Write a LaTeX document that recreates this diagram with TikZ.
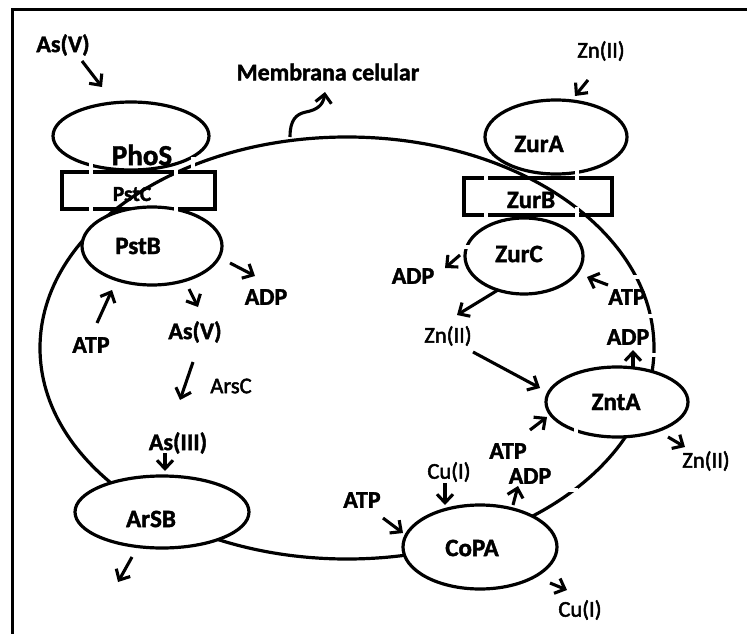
\documentclass[tikz,border=0pt]{standalone}
\usepackage{fontspec}
\setmainfont{Carlito}[BoldFeatures={FakeBold=1.6}]
\newfontfamily\midfont{Carlito}[FakeBold=2.2]
\usetikzlibrary{arrows.meta,shapes.geometric}

\tikzset{
  prot/.style={ellipse, draw, fill=white, line width=3.2pt, inner sep=0pt},
  protbox/.style={rectangle, draw, line width=3.2pt, inner sep=0pt},
  bl/.style={font=\fontsize{24}{26}\selectfont\bfseries, inner sep=0pt},
  rl/.style={font=\fontsize{22.5}{24}\selectfont\midfont, inner sep=0pt},
  pl/.style={font=\fontsize{25}{27}\selectfont\bfseries, inner sep=0pt},
  flow/.style={line width=3.1pt, -{Straight Barb[length=8.5pt,width=16pt,line width=3.1pt]}},
  gapmark/.style={white, line width=4pt},
}

\begin{document}
\begin{tikzpicture}[x=1pt, y=-1pt, line cap=butt]
\useasboundingbox (0,0) rectangle (747,634);

% outer frame (top and left sides)
\draw[line width=3pt] (12,634) -- (12,10) -- (747,10);

% cell membrane
\draw[line width=3.2pt] (347,348) ellipse [x radius=307pt, y radius=211pt];

% transport boxes
\node[protbox, minimum width=153pt, minimum height=37pt] (pstc) at (138.5,190.5) {};
\node[protbox, minimum width=148pt, minimum height=37pt] (zurb) at (538,196.5) {};

% proteins
\node[prot, minimum width=156pt, minimum height=68pt] (phos) at (131,136) {};
\node[prot, minimum width=140pt, minimum height=78pt] (pstb) at (152,246) {};
\node[prot, minimum width=174pt, minimum height=72pt] (arsb) at (162,512) {};
\node[prot, minimum width=154pt, minimum height=84pt] (copa) at (480,547) {};
\node[prot, minimum width=142pt, minimum height=70pt] (znta) at (617,402) {};
\node[prot, minimum width=142pt, minimum height=74pt] (zura) at (556,137) {};
\node[prot, minimum width=118pt, minimum height=76pt] (zurc) at (524,256) {};

% small breaks in the outlines
\draw[gapmark] (91,162) -- (91,176);
\draw[gapmark] (91,203) -- (91,214);
\draw[gapmark] (176,166) -- (176,177);
\draw[gapmark] (176,203) -- (176,214);
\draw[gapmark] (193,157) -- (193,168);
\draw[gapmark] (486,170) -- (486,184);
\draw[gapmark] (486,208) -- (486,222);
\draw[gapmark] (577,168) -- (577,184);
\draw[gapmark] (577,207) -- (577,222);
\draw[gapmark] (460,247) -- (470,247);
\draw[gapmark] (626,276.5) -- (642,276.5);
\draw[gapmark] (641,316) -- (656,316);
\draw[gapmark] (645,355) -- (660,355);
\draw[gapmark] (562,490) -- (578,490);
\draw[gapmark] (576,421) -- (576,434);

% protein names
\node[pl, font=\fontsize{29}{31}\selectfont\bfseries] (tphos) at (142,155) {PhoS};
\node[bl, font=\fontsize{21.5}{23}\selectfont\bfseries] (tpstc) at (132,194) {PstC};
\node[pl] (tpstb) at (138,246) {PstB};
\node[pl] (tarsb) at (151,519) {ArSB};
\node[pl] (tcopa) at (472,548) {CoPA};
\node[pl] (tznta) at (616,402) {ZntA};
\node[pl] (tzura) at (539,144) {ZurA};
\node[pl] (tzurb) at (531,200) {ZurB};
\node[pl] (tzurc) at (519,254) {ZurC};

% species labels
\node[bl] (asvA) at (63,45) {As(V)};
\node[bl] (memb) at (328,72) {Membrana celular};
\node[rl] (znA) at (601,51) {Zn(II)};
\node[bl] (adpA) at (266,297) {ADP};
\node[bl] (asvB) at (195,332) {As(V)};
\node[bl] (atpA) at (91,345) {ATP};
\node[rl] (arsc) at (231,386) {ArsC};
\node[bl] (asiii) at (178,443) {As(III)};
\node[bl] (atpB) at (362,500) {ATP};
\node[rl] (cuA) at (449,472) {Cu(I)};
\node[bl] (adpB) at (530,476) {ADP};
\node[bl] (atpC) at (508,451) {ATP};
\node[rl] (znB) at (448,336) {Zn(II)};
\node[bl] (adpC) at (413,276) {ADP};
\node[bl] (atpD) at (627,297) {ATP};
\node[bl] (adpD) at (628,337) {ADP};
\node[rl] (znC) at (706,461) {Zn(II)};
\node[rl] (cuB) at (580,610) {Cu(I)};

% arrow end points
\coordinate (a1s) at (82,61);   \coordinate (a1e) at (102,87);
\coordinate (a2s) at (588,80);  \coordinate (a2e) at (575,96);
\coordinate (a3s) at (230,263); \coordinate (a3e) at (255,276);
\coordinate (a4s) at (189,289); \coordinate (a4e) at (198,307);
\coordinate (a5s) at (97,323);  \coordinate (a5e) at (112,290);
\coordinate (a6s) at (193,362); \coordinate (a6e) at (180,400);
\coordinate (a7s) at (165,453); \coordinate (a7e) at (165,471);
\coordinate (a8s) at (132,557); \coordinate (a8e) at (118,582);
\coordinate (a9s) at (383,518); \coordinate (a9e) at (403,533);
\coordinate (b1s) at (445,483); \coordinate (b1e) at (445,505);
\coordinate (b2s) at (513,505); \coordinate (b2e) at (518,486);
\coordinate (b3s) at (530,430); \coordinate (b3e) at (547,417);
\coordinate (b4s) at (473,352); \coordinate (b4e) at (540,388);
\coordinate (b5s) at (498,290); \coordinate (b5e) at (457,315);
\coordinate (b6s) at (460,255); \coordinate (b6e) at (445,268);
\coordinate (b7s) at (608,285); \coordinate (b7e) at (587,277);
\coordinate (b8s) at (633,367); \coordinate (b8e) at (633,350);
\coordinate (b9s) at (668,437); \coordinate (b9e) at (685,447);
\coordinate (c1s) at (550,583); \coordinate (c1e) at (567,590);
\coordinate (ms) at (290,137);  \coordinate (me) at (325,92);

% fluxes
\draw[flow] (a1s) -- (a1e);
\draw[flow] (a2s) -- (a2e);
\draw[flow] (a3s) -- (a3e);
\draw[flow] (a4s) -- (a4e);
\draw[flow] (a5s) -- (a5e);
\draw[flow] (a6s) -- (a6e);
\draw[flow] (a7s) -- (a7e);
\draw[flow] (a8s) -- (a8e);
\draw[flow] (a9s) -- (a9e);
\draw[flow] (b1s) -- (b1e);
\draw[flow] (b2s) -- (b2e);
\draw[flow] (b3s) -- (b3e);
\draw[flow] (b4s) -- (b4e);
\draw[flow] (b5s) -- (b5e);
\draw[flow] (b6s) -- (b6e);
\draw[flow] (b7s) -- (b7e);
\draw[flow] (b8s) -- (b8e);
\draw[flow] (b9s) -- (b9e);
\draw[flow] (c1s) -- (c1e);

% pointer to the membrane
\draw[flow] (ms) .. controls (290,120) and (296,114) .. (306,112)
  .. controls (316,110) and (323,106) .. (me);
\end{tikzpicture}
\end{document}
